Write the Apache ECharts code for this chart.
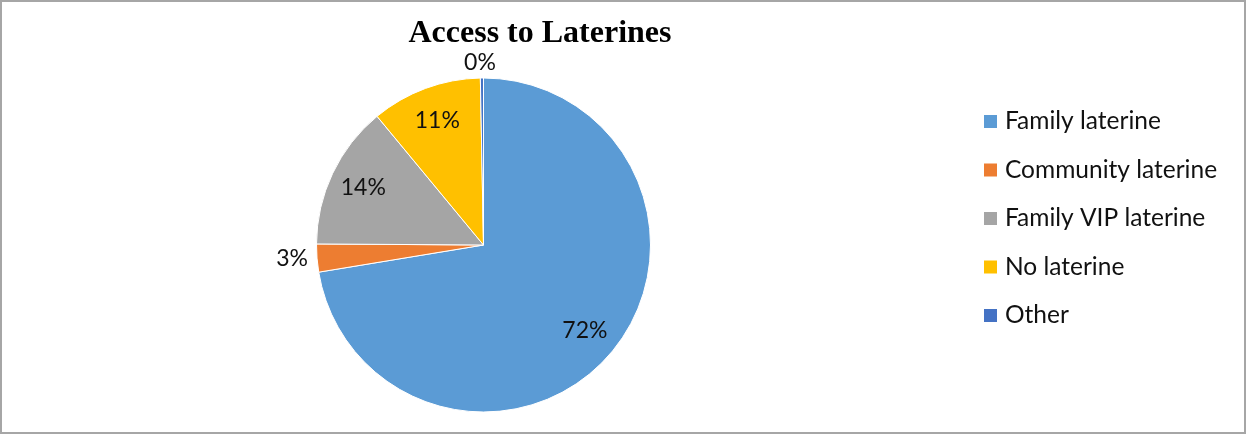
<!DOCTYPE html>
<html>
<head>
<meta charset="utf-8">
<script src="https://cdn.jsdelivr.net/npm/echarts@6/dist/echarts.min.js"></script>
<style>
html,body{margin:0;padding:0;background:#fff;}
#c{width:1247px;height:435px;}
</style>
</head>
<body>
<div id="c"></div>
<script>
const categories = ['Family laterine', 'Community laterine', 'Family VIP laterine', 'No laterine', 'Other'];
const values = [72.4, 2.7, 13.9, 10.7, 0.3];
const colors = ['#5B9BD5', '#ED7D31', '#A5A5A5', '#FFC000', '#4472C4'];
const insideLabel = [true, false, true, true, false];

const FONT = 'Lato, "Open Sans", sans-serif';
const chart = echarts.init(document.getElementById('c'));
const fmt = p => Math.round(p.percent) + '%';

const baseData = categories.map((n, i) => ({
  name: n, value: values[i],
  itemStyle: { color: colors[i] },
  label: { show: !insideLabel[i] }
}));
const overlayData = categories.map((n, i) => ({
  name: n, value: values[i],
  label: { show: insideLabel[i] }
}));

chart.setOption({
  animation: false,
  title: {
    text: 'Access to Laterines',
    left: 535, top: 13, textAlign: 'center',
    textStyle: { fontFamily: '"Liberation Serif", "Times New Roman", serif', fontWeight: 'bold', fontSize: 32, color: '#000' }
  },
  legend: {
    orient: 'vertical', left: 982, top: 109, padding: 0,
    itemWidth: 15, itemHeight: 15, itemGap: 23.5,
    icon: 'rect',
    data: categories,
    textStyle: { fontFamily: FONT, fontSize: 24.5, color: '#111', lineHeight: 24, padding: [0, 0, 0, 2] }
  },
  graphic: [{
    type: 'rect', silent: true,
    shape: { x: 1, y: 1, width: 1244, height: 432 },
    style: { fill: 'none', stroke: '#a6a6a6', lineWidth: 2 }
  }],
  series: [{
    type: 'pie',
    center: [483.5, 245], radius: [0, 167],
    startAngle: 90, clockwise: true,
    itemStyle: { borderColor: '#fff', borderWidth: 1 },
    label: { position: 'outside', formatter: fmt, fontFamily: FONT, fontSize: 23, color: '#111' },
    labelLine: { show: false, length: 0, length2: 0 },
    labelLayout: function (p) {
      if (p.dataIndex === 4) return { align: 'center', verticalAlign: 'bottom', dy: -4, dx: 3 };
      return { dx: -4 };
    },
    emphasis: { disabled: true },
    data: baseData
  }, {
    type: 'pie', silent: true,
    center: [483.5, 245], radius: [93, 167],
    startAngle: 90, clockwise: true,
    itemStyle: { color: 'rgba(0,0,0,0)' },
    label: { position: 'inside', formatter: fmt, fontFamily: FONT, fontSize: 23, color: '#111' },
    labelLine: { show: false },
    emphasis: { disabled: true },
    data: overlayData
  }]
});
</script>
</body>
</html>
